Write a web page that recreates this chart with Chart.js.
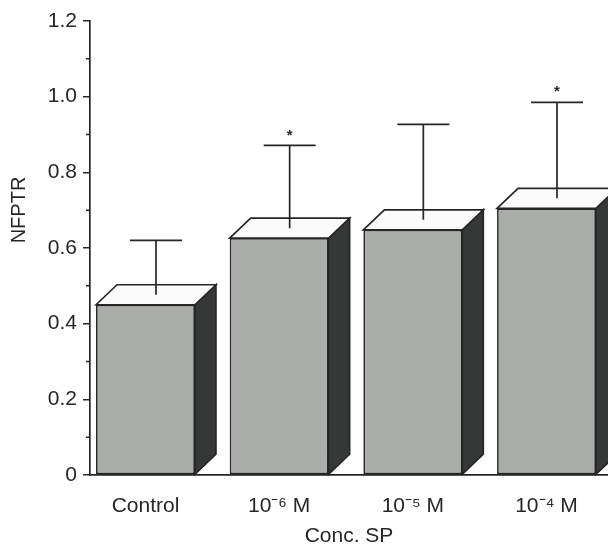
<!DOCTYPE html>
<html>
<head>
<meta charset="utf-8">
<style>
  html, body { margin: 0; padding: 0; background: #ffffff; overflow: hidden; }
  #wrap { width: 608px; height: 549px; }
</style>
<script src="https://cdn.jsdelivr.net/npm/chart.js@4.4.1/dist/chart.umd.min.js"></script>
</head>
<body>
<div id="wrap"><canvas id="c" width="608" height="549"></canvas></div>
<script>
// ---- data ----
const categories = ['Control', '10\u207B\u2076 M', '10\u207B\u2075 M', '10\u207B\u2074 M'];
const means = [0.450, 0.626, 0.648, 0.705];
const errorTop = [0.620, 0.871, 0.927, 0.985];
const significant = [false, true, false, true];
const yMajorTicks = [0, 0.2, 0.4, 0.6, 0.8, 1.0, 1.2];
const yMinorTicks = [0.1, 0.3, 0.5, 0.7, 0.9, 1.1];
const yTitle = 'NFPTR';
const xTitle = 'Conc. SP';

// ---- style ----
const FONT = "'Liberation Sans', Arial, sans-serif";
const INK = '#262626';
const FRONT = '#a9aca8';
const TOP = '#fbfbfb';
const SIDE = '#363837';
const DX = 21, DY = 20;

const bar3d = {
  id: 'bar3d',
  afterDatasetsDraw(chart) {
    const ctx = chart.ctx;
    const ys = chart.scales.y;
    const meta = chart.getDatasetMeta(0);
    ctx.save();
    ctx.lineJoin = 'miter';
    ctx.strokeStyle = INK;
    ctx.lineWidth = 1.7;
    meta.data.forEach((bar, i) => {
      const p = bar.getProps(['x', 'y', 'base', 'width'], true);
      const L = p.x - p.width / 2, R = p.x + p.width / 2, T = p.y, B = p.base;
      // side face
      ctx.beginPath();
      ctx.moveTo(R, T); ctx.lineTo(R + DX, T - DY); ctx.lineTo(R + DX, B - DY); ctx.lineTo(R, B); ctx.closePath();
      ctx.fillStyle = SIDE; ctx.fill(); ctx.stroke();
      // top face
      ctx.beginPath();
      ctx.moveTo(L, T); ctx.lineTo(L + DX, T - DY); ctx.lineTo(R + DX, T - DY); ctx.lineTo(R, T); ctx.closePath();
      ctx.fillStyle = TOP; ctx.fill(); ctx.stroke();
      // error bar
      const ex = p.x + DX / 2, ey0 = T - DY / 2, ey1 = ys.getPixelForValue(errorTop[i]);
      ctx.beginPath();
      ctx.moveTo(ex, ey0); ctx.lineTo(ex, ey1);
      ctx.moveTo(ex - 26, ey1); ctx.lineTo(ex + 26, ey1);
      ctx.stroke();
      if (significant[i]) {
        ctx.fillStyle = INK;
        ctx.font = "bold 15px " + FONT;
        ctx.textAlign = 'center';
        ctx.textBaseline = 'middle';
        ctx.fillText('*', ex, ey1 - 10);
      }
    });
    // minor ticks on y axis
    ctx.lineWidth = 1.5;
    ctx.beginPath();
    yMinorTicks.forEach(v => {
      const y = ys.getPixelForValue(v);
      ctx.moveTo(ys.right - 4, y); ctx.lineTo(ys.right, y);
    });
    ctx.stroke();
    // y axis title
    ctx.fillStyle = INK;
    ctx.font = "20px " + FONT;
    ctx.textAlign = 'center';
    ctx.textBaseline = 'middle';
    ctx.translate(19, 210);
    ctx.rotate(-Math.PI / 2);
    ctx.fillText(yTitle, 0, 0);
    ctx.restore();
  }
};

new Chart(document.getElementById('c'), {
  type: 'bar',
  data: {
    datasets: [{
      data: means.map((v, i) => ({ x: i, y: v })),
      backgroundColor: FRONT,
      borderColor: INK,
      borderWidth: 1.7,
      borderSkipped: false,
      categoryPercentage: 1.0,
      barPercentage: 0.74
    }]
  },
  options: {
    responsive: false,
    animation: false,
    devicePixelRatio: 1,
    layout: { padding: { left: 0, right: 0, top: 21, bottom: 0 } },
    plugins: { legend: { display: false }, tooltip: { enabled: false } },
    scales: {
      x: {
        type: 'linear',
        offset: false,
        min: -0.415,
        max: 3.46,
        afterBuildTicks: s => { s.ticks = categories.map((c, i) => ({ value: i })); },
        afterFit: s => { s.height = 74; },
        grid: { display: false, drawTicks: false, offset: false },
        border: { display: true, color: INK, width: 1.7 },
        ticks: {
          autoSkip: false,
          maxRotation: 0,
          padding: 19,
          color: INK,
          font: { family: FONT, size: 21 },
          callback: v => categories[v]
        },
        title: { display: true, text: xTitle, color: INK, font: { family: FONT, size: 21 }, padding: { top: 0, bottom: 0 } }
      },
      y: {
        min: 0,
        max: 1.2,
        afterBuildTicks: s => { s.ticks = yMajorTicks.map(v => ({ value: v })); },
        afterFit: s => { s.width = 90; },
        grid: { drawOnChartArea: false, drawTicks: true, tickLength: 7, color: INK, lineWidth: 1.5 },
        border: { display: true, color: INK, width: 1.7 },
        ticks: {
          padding: 6,
          color: INK,
          font: { family: FONT, size: 21 },
          callback: v => (v === 0 ? '0' : v.toFixed(1))
        }
      }
    }
  },
  plugins: [bar3d]
});
</script>
</body>
</html>
